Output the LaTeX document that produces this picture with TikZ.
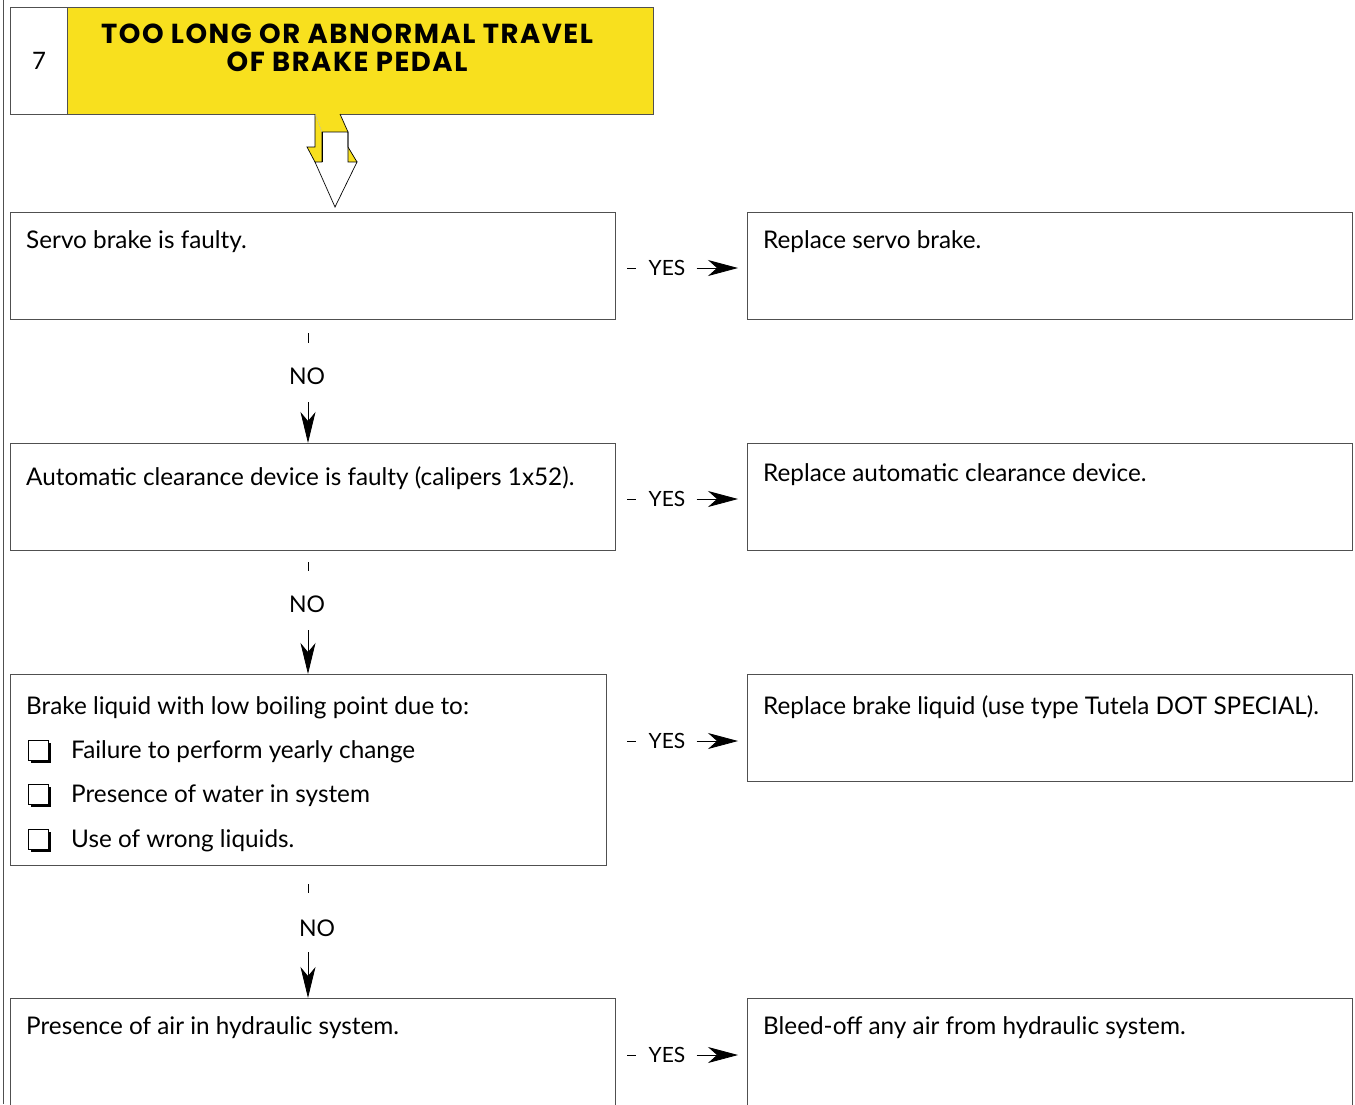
\documentclass[tikz,border=0pt]{standalone}
\usepackage{fontspec}
\setmainfont{Lato}
\newfontfamily\titlefont{Poppins}[LetterSpace=5.5]
\usetikzlibrary{arrows.meta,calc}
\definecolor{hdryellow}{HTML}{F8E01E}
\definecolor{edge}{HTML}{505050}
\begin{document}
\begin{tikzpicture}[x=1pt,y=-1pt,
  box/.style={draw=edge, line width=1.1pt, anchor=north west, inner sep=0pt,
    minimum width=605pt, minimum height=107pt},
  txt/.style={anchor=base west, inner sep=0pt, font=\fontsize{24.3}{28}\selectfont},
  lbl/.style={inner sep=0pt, font=\fontsize{21}{24}\selectfont},
  nolbl/.style={inner sep=0pt, font=\fontsize{23}{24}\selectfont},
  yesarrow/.style={line width=0.8pt, -{Stealth[length=30pt,width=16pt,inset=9pt]}},
  noarrow/.style={line width=0.8pt, -{Stealth[length=31pt,width=15pt,inset=9pt]}},
  tick/.style={line width=0.8pt},
  chk/.style={draw=black, fill=white, line width=0.9pt, minimum size=20pt,
    inner sep=0pt, anchor=north west},
]
\useasboundingbox (0,0) rectangle (1355,1104);

% page rule on the left edge
\draw[edge, line width=1.2pt] (3.5,0) -- (3.5,1104);

% header
\node[draw=edge, line width=1.1pt, anchor=north west, inner sep=0pt,
      minimum width=57pt, minimum height=107pt] (num) at (10,7) {};
\node[draw=edge, line width=1.1pt, fill=hdryellow, anchor=north west, inner sep=0pt,
      minimum width=586pt, minimum height=107pt] (title) at (67,7) {};
\node[font=\fontsize{24}{26}\selectfont, inner sep=0pt] at (num.center) {7};
\node[align=center, inner sep=0pt, font=\titlefont\bfseries\fontsize{27.5}{28}\selectfont]
  at (347,48) {TOO LONG OR ABNORMAL TRAVEL\\OF BRAKE PEDAL};

% block arrow under the header
\fill[hdryellow] (315,114) -- (340,114) -- (348,132) -- (322,132) -- cycle;
\fill[hdryellow] (315,114) -- (322,132) -- (322,162) -- (315,162) -- (307,147) -- (315,147) -- cycle;
\fill[hdryellow] (348,147) -- (357,162) -- (348,162) -- cycle;
\draw[line width=0.7pt, fill=white, line join=miter]
  (322,132) -- (348,132) -- (348,162) -- (357,162) -- (335,207) -- (315,162) -- (322,162) -- cycle;
\draw[line width=0.7pt] (322,132) -- (322,162);
\draw[line width=0.7pt] (340,114) -- (348,132) -- (348,147) -- (357,162);
\draw[line width=0.7pt] (315,114) -- (315,147) -- (307,147) -- (315,162);
\draw[line width=0.3pt, black!30] (315,114) -- (322,132);

% question boxes
\node[box] (q1) at (10,212) {};
\node[box] (q2) at (10,443) {};
\node[box, minimum width=596pt, minimum height=191pt] (q3) at (10,674) {};
\node[box, minimum height=130pt] (q4) at (10,998) {};

% remedy boxes
\node[box] (r1) at (747,212) {};
\node[box] (r2) at (747,443) {};
\node[box] (r3) at (747,674) {};
\node[box, minimum height=130pt] (r4) at (747,998) {};

% texts
\node[txt] at (26,248) {Servo brake is faulty.};
\node[txt] at (26,485) {Automatic clearance device is faulty (calipers 1x52).};
\node[txt] at (26,714) {Brake liquid with low boiling point due to:};
\node[txt] at (71,758) {Failure to perform yearly change};
\node[txt] at (71,802) {Presence of water in system};
\node[txt] at (71,847) {Use of wrong liquids.};
\node[txt] at (26,1034) {Presence of air in hydraulic system.};

\node[txt] at (763,248) {Replace servo brake.};
\node[txt] at (763,481) {Replace automatic clearance device.};
\node[txt] at (763,714) {Replace brake liquid (use type Tutela DOT SPECIAL).};
\node[txt] at (763,1034) {Bleed-off any air from hydraulic system.};

% check boxes with drop shadow
\foreach \yy/\nm in {740/c1, 784/c2, 829/c3}{
  \fill (31,\yy+3) rectangle (51,\yy+23);
  \node[chk] (\nm) at (28,\yy) {};
}

% YES connectors
\foreach \qq/\rr/\yy/\nm in {q1/r1/268/y1, q2/r2/499/y2, q3/r3/741/y3, q4/r4/1055/y4}{
  \node[lbl] (\nm) at (667,\yy) {YES};
  \draw[tick] ($(\nm.west)+(-21,0)$) -- ($(\nm.west)+(-12,0)$);
  \draw[yesarrow] ($(\nm.east)+(11,0)$) -- ($(\nm.east -| \rr.west)+(-9,0)$);
}

% NO connectors
\node[nolbl] (n1) at (307,376) {NO};
\node[nolbl] (n2) at (307,604) {NO};
\node[nolbl] (n3) at (317,928) {NO};
\draw[tick] (308,333) -- (308,343);
\draw[tick] (308,562) -- (308,571);
\draw[tick] (308,884) -- (308,893);
\draw[noarrow] (308,402) -- (q2.north -| 308,0);
\draw[noarrow] (308,630) -- (q3.north -| 308,0);
\draw[noarrow] (308,952) -- (q4.north -| 308,0);
\end{tikzpicture}
\end{document}
